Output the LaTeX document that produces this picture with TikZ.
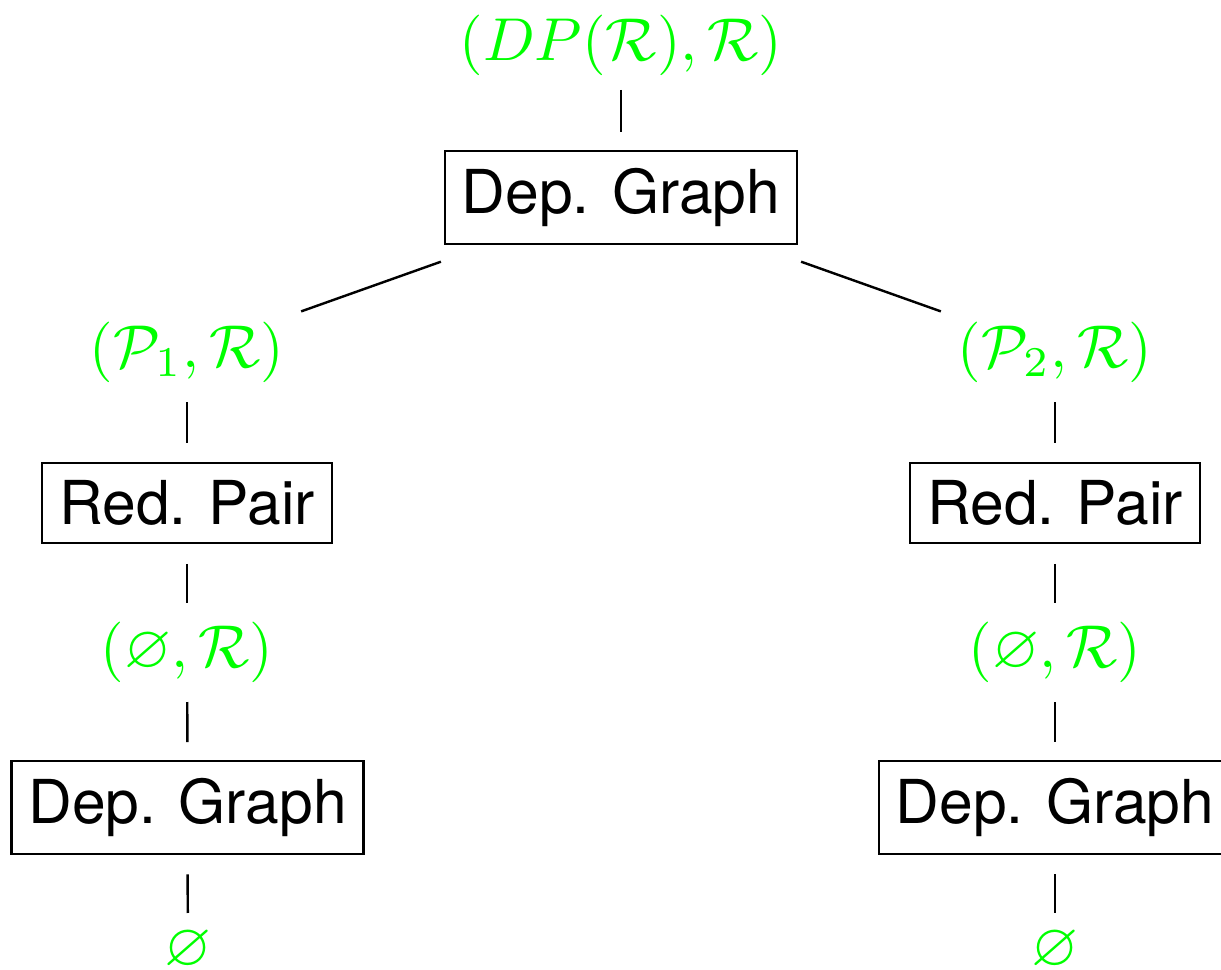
\documentclass[tikz,border=0pt]{standalone}
\usepackage{amssymb}
\usepackage{fontspec}
\newfontfamily\helv{TeX Gyre Heros}
\usetikzlibrary{calc}
\begin{document}
\begin{tikzpicture}[x=0.16515pt,y=-0.16515pt,
  box/.style={draw,line width=0.4pt,font=\helv,inner xsep=2.8pt,inner ysep=2.85pt},
  lab/.style={text=green,inner sep=0pt},
  conn/.style={line width=0.4pt}]
\useasboundingbox (0,0) rectangle (1221,970);
% labels
\node[lab] (t0) at (621,45) {$(DP(\mathcal{R}),\mathcal{R})$};
\node[lab] (l1) at (187,352) {$(\mathcal{P}_1,\mathcal{R})$};
\node[lab] (r1) at (1055,352) {$(\mathcal{P}_2,\mathcal{R})$};
\node[lab] (l2) at (187,652) {$(\varnothing,\mathcal{R})$};
\node[lab] (r2) at (1055,652) {$(\varnothing,\mathcal{R})$};
\node[lab] (l3) at (188,950) {$\varnothing$};
\node[lab] (r3) at (1055,950) {$\varnothing$};
% boxes
\node[box,anchor=north] (b0) at (621,150) {Dep. Graph};
\node[box,anchor=north] (lb1) at (187,462) {Red. Pair};
\node[box,anchor=north] (rb1) at (1055,462) {Red. Pair};
\node[box,anchor=north] (lb2) at (187.5,760) {Dep. Graph};
\node[box,anchor=north] (rb2) at (1055,760) {Dep. Graph};
% connectors
\draw[conn,shorten <=7.43pt,shorten >=2.97pt] (t0.center) -- (b0.north);
\draw[conn] ($(b0.center)!0.415!(l1.center)$) -- ($(b0.center)!0.737!(l1.center)$);
\draw[conn] ($(b0.center)!0.415!(r1.center)$) -- ($(b0.center)!0.737!(r1.center)$);
\foreach \s in {l,r}{
  \draw[conn,shorten <=8.26pt,shorten >=3.14pt] (\s1.center) -- (\s b1.north);
  \draw[conn,shorten <=3.30pt,shorten >=8.10pt] (\s b1.south) -- (\s2.center);
  \draw[conn,shorten <=8.26pt,shorten >=2.97pt] (\s2.center) -- (\s b2.north);
  \draw[conn,shorten <=3.14pt,shorten >=6.11pt] (\s b2.south) -- (\s3.center);
}
\end{tikzpicture}
\end{document}
